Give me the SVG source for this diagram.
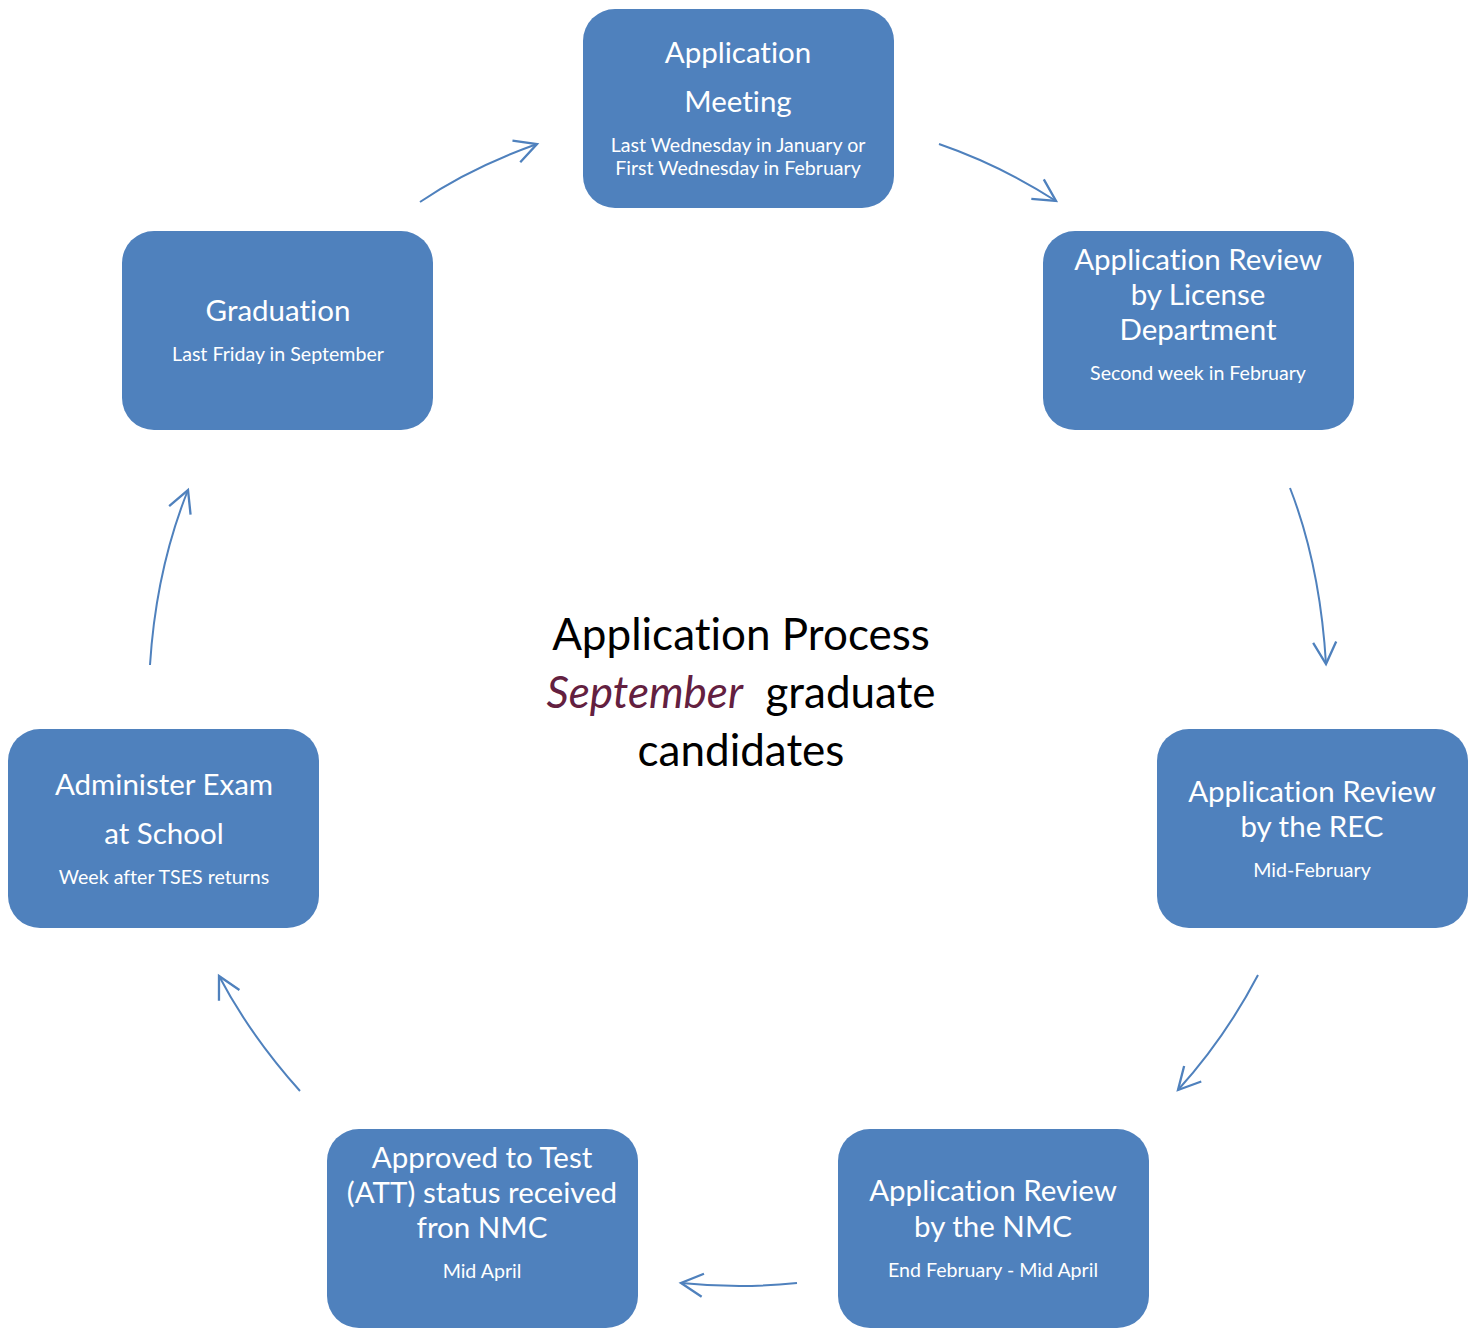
<svg xmlns="http://www.w3.org/2000/svg" width="1478" height="1332" viewBox="0 0 1478 1332">
<style>
text{font-variant-ligatures:none;}
.box{fill:#4F81BD;}
.t{font-family:Lato,"Open Sans",sans-serif;font-size:29.5px;fill:#fff;text-anchor:middle;}
.s{font-family:Lato,"Open Sans",sans-serif;font-size:19.6px;fill:#fff;text-anchor:middle;}
.c{font-family:Lato,"Open Sans",sans-serif;font-size:44px;fill:#000;text-anchor:middle;white-space:pre;}
.arr{fill:none;stroke:#4F81BD;stroke-width:2;marker-end:url(#ah);}
</style>
<defs>
<marker id="ah" markerUnits="userSpaceOnUse" markerWidth="30" markerHeight="30" viewBox="-22 -12 26 24" refX="0" refY="0" orient="auto">
<path d="M-19,-10 L0,0 L-19,10" fill="none" stroke="#4F81BD" stroke-width="2"/>
</marker>
</defs>
<rect width="1478" height="1332" fill="#fff"/>
<g id="connectors">
<path class="arr" d="M420,202 Q470,168 537,144"/>
<path class="arr" d="M939,144 Q1000,165 1056,201"/>
<path class="arr" d="M1290,488 Q1320,565 1326,664"/>
<path class="arr" d="M1258,975 Q1225,1038 1178,1090"/>
<path class="arr" d="M797,1283 Q740,1289 681,1283"/>
<path class="arr" d="M300,1091 Q250,1035 219,976"/>
<path class="arr" d="M150,665 Q156,570 188,490"/>
</g>
<g id="n1">
<rect class="box" x="583" y="9" width="311" height="199" rx="32"/>
<text class="t" x="738" y="63">Application</text>
<text class="t" x="738" y="112">Meeting</text>
<text class="s" x="738" y="152">Last Wednesday in January or</text>
<text class="s" x="738" y="175">First Wednesday in February</text>
</g>
<g id="n2">
<rect class="box" x="1043" y="231" width="311" height="199" rx="32"/>
<text class="t" x="1198" y="270">Application Review</text>
<text class="t" x="1198" y="305">by License</text>
<text class="t" x="1198" y="340">Department</text>
<text class="s" x="1198" y="380">Second week in February</text>
</g>
<g id="n3">
<rect class="box" x="1157" y="729" width="311" height="199" rx="32"/>
<text class="t" x="1312" y="802">Application Review</text>
<text class="t" x="1312" y="837">by the REC</text>
<text class="s" x="1312" y="877">Mid-February</text>
</g>
<g id="n4">
<rect class="box" x="838" y="1129" width="311" height="199" rx="32"/>
<text class="t" x="993" y="1201">Application Review</text>
<text class="t" x="993" y="1237">by the NMC</text>
<text class="s" x="993" y="1277">End February - Mid April</text>
</g>
<g id="n5">
<rect class="box" x="327" y="1129" width="311" height="199" rx="32"/>
<text class="t" x="482" y="1168">Approved to Test</text>
<text class="t" x="482" y="1203">(ATT) status received</text>
<text class="t" x="482" y="1238">fron NMC</text>
<text class="s" x="482" y="1278">Mid April</text>
</g>
<g id="n6">
<rect class="box" x="8" y="729" width="311" height="199" rx="32"/>
<text class="t" x="164" y="795">Administer Exam</text>
<text class="t" x="164" y="844">at School</text>
<text class="s" x="164" y="884">Week after TSES returns</text>
</g>
<g id="n7">
<rect class="box" x="122" y="231" width="311" height="199" rx="32"/>
<text class="t" x="278" y="321">Graduation</text>
<text class="s" x="278" y="361">Last Friday in September</text>
</g>
<g id="title">
<text class="c" x="741" y="650">Application Process</text>
<text class="c" x="741" y="708"><tspan fill="#632040" font-style="italic">September</tspan>  graduate</text>
<text class="c" x="741" y="766">candidates</text>
</g>
</svg>
